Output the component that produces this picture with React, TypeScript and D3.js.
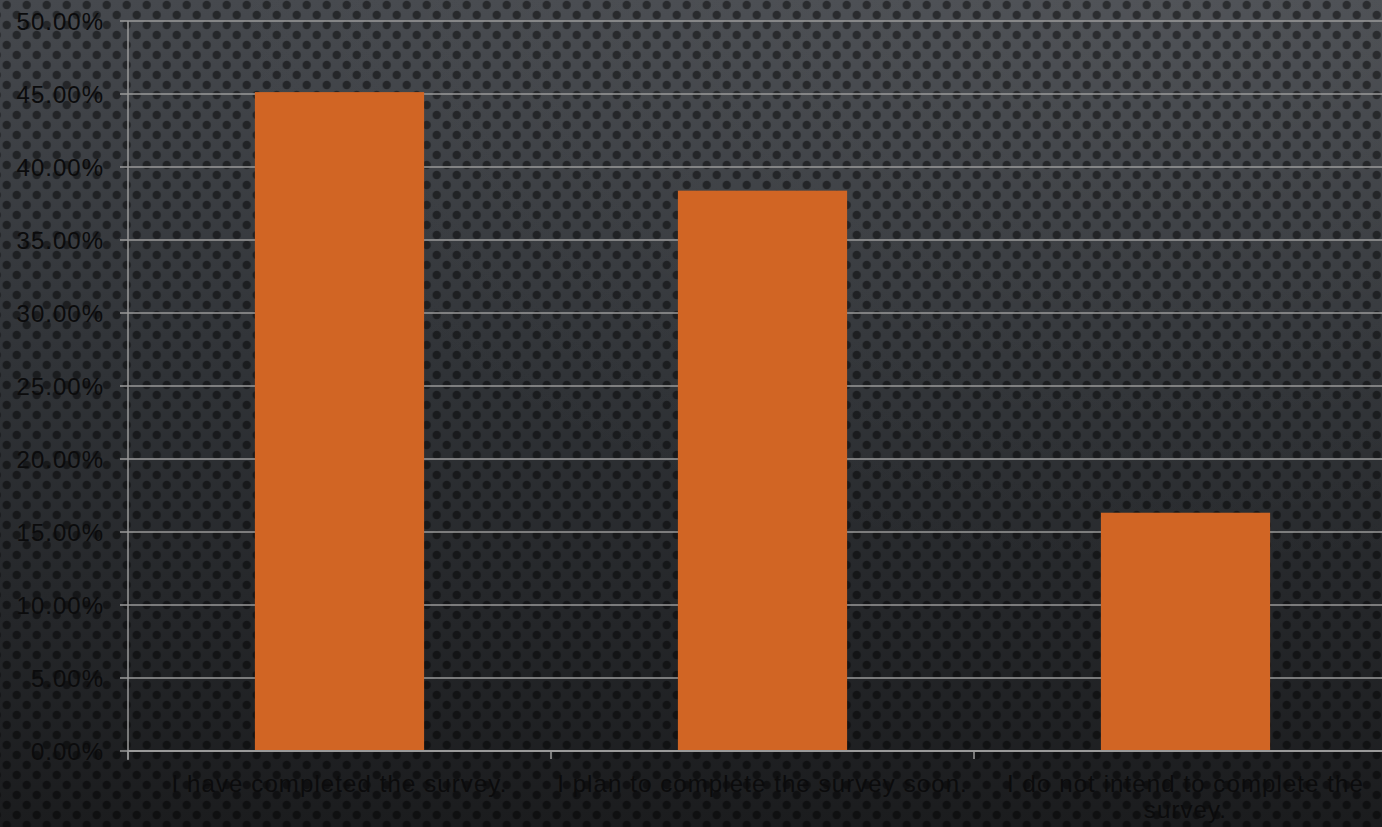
import React, { useEffect, useRef } from "react";
import * as d3 from "d3";

const categories = [
  "I have completed the survey.",
  "I plan to complete the survey soon.",
  "I do not intend to complete the survey.",
];
const values = [45.13, 38.38, 16.32];
const yTicks = [0, 5, 10, 15, 20, 25, 30, 35, 40, 45, 50];

const W = 1382;
const H = 827;
const M = { left: 128, top: 21, bottom: 76 };
const PLOT_RIGHT = 1397;

export default function App() {
  const ref = useRef<SVGSVGElement>(null);

  useEffect(() => {
    document.body.style.margin = "0";
    const svg = d3.select(ref.current);
    svg.selectAll("*").remove();

    const defs = svg.append("defs");
    const lg = defs
      .append("linearGradient")
      .attr("id", "bg")
      .attr("x1", 0)
      .attr("y1", 0)
      .attr("x2", 0)
      .attr("y2", 1);
    lg.append("stop").attr("offset", 0).attr("stop-color", "#46494e");
    lg.append("stop").attr("offset", 0.45).attr("stop-color", "#303337");
    lg.append("stop").attr("offset", 1).attr("stop-color", "#1b1c1e");

    const rg = defs
      .append("radialGradient")
      .attr("id", "hl")
      .attr("cx", 0.85)
      .attr("cy", 0)
      .attr("r", 0.7);
    rg.append("stop").attr("offset", 0).attr("stop-color", "#ffffff").attr("stop-opacity", 0.06);
    rg.append("stop").attr("offset", 1).attr("stop-color", "#ffffff").attr("stop-opacity", 0);

    const pat = defs
      .append("pattern")
      .attr("id", "dots")
      .attr("patternUnits", "userSpaceOnUse")
      .attr("x", 6.7)
      .attr("y", 0)
      .attr("width", 20)
      .attr("height", 20);
    const dotFill = "rgba(0,0,0,0.45)";
    pat.append("circle").attr("cx", 0).attr("cy", 5).attr("r", 4.2).attr("fill", dotFill);
    pat.append("circle").attr("cx", 20).attr("cy", 5).attr("r", 4.2).attr("fill", dotFill);
    pat.append("circle").attr("cx", 10).attr("cy", 15).attr("r", 4.2).attr("fill", dotFill);

    svg.append("rect").attr("width", W).attr("height", H).attr("fill", "url(#bg)");
    svg.append("rect").attr("width", W).attr("height", H).attr("fill", "url(#hl)");
    svg.append("rect").attr("width", W).attr("height", H).attr("fill", "url(#dots)");

    const y = d3
      .scaleLinear()
      .domain([0, 50])
      .range([H - M.bottom, M.top]);
    const x = d3
      .scaleBand<string>()
      .domain(categories)
      .range([M.left, PLOT_RIGHT])
      .padding(0);
    const xb = d3
      .scaleBand<string>()
      .domain(categories)
      .range([M.left, PLOT_RIGHT])
      .paddingInner(0.6)
      .paddingOuter(0.3);

    const gridColor = "#9a9a9a";

    svg
      .append("g")
      .selectAll("line")
      .data(yTicks)
      .join("line")
      .attr("x1", M.left - 8)
      .attr("x2", W)
      .attr("y1", (d) => y(d))
      .attr("y2", (d) => y(d))
      .attr("stroke", gridColor)
      .attr("stroke-width", 1.5);

    svg
      .append("g")
      .selectAll("rect")
      .data(values)
      .join("rect")
      .attr("x", (_, i) => xb(categories[i])!)
      .attr("width", xb.bandwidth())
      .attr("y", (d) => y(d))
      .attr("height", (d) => y(0) - y(d))
      .attr("fill", "#d16524");

    svg
      .append("line")
      .attr("x1", M.left)
      .attr("x2", M.left)
      .attr("y1", y(50))
      .attr("y2", y(0) + 9)
      .attr("stroke", gridColor)
      .attr("stroke-width", 1.5);

    svg
      .append("line")
      .attr("x1", M.left)
      .attr("x2", W)
      .attr("y1", y(0))
      .attr("y2", y(0))
      .attr("stroke", gridColor)
      .attr("stroke-width", 2);

    svg
      .append("g")
      .selectAll("line")
      .data(categories)
      .join("line")
      .attr("x1", (d) => x(d)!)
      .attr("x2", (d) => x(d)!)
      .attr("y1", y(0))
      .attr("y2", y(0) + 8)
      .attr("stroke", gridColor)
      .attr("stroke-width", 1.5);

    const font = "'Liberation Sans', Arial, sans-serif";

    svg
      .append("g")
      .selectAll("text")
      .data(yTicks)
      .join("text")
      .attr("x", 104)
      .attr("y", (d) => y(d) + 8.5)
      .attr("text-anchor", "end")
      .attr("font-family", font)
      .attr("font-size", 24)
      .attr("letter-spacing", 1)
      .attr("fill", "#0b0b0c")
      .text((d) => d.toFixed(2) + "%");

    const maxW = x.bandwidth() - 2;
    const lab = svg
      .append("g")
      .selectAll("text")
      .data(categories)
      .join("text")
      .attr("x", (d) => x(d)! + x.bandwidth() / 2)
      .attr("y", y(0) + 41)
      .attr("text-anchor", "middle")
      .attr("font-family", font)
      .attr("font-size", 24)
      .attr("letter-spacing", 1.1)
      .attr("fill", "#0b0b0c");

    lab.each(function (d) {
      const t = d3.select(this);
      const cx = +t.attr("x");
      const words = d.split(" ");
      let line: string[] = [];
      let ts = t.append("tspan").attr("x", cx).attr("dy", 0);
      for (const w of words) {
        line.push(w);
        ts.text(line.join(" "));
        const node = ts.node() as SVGTSpanElement;
        if (node.getComputedTextLength() > maxW && line.length > 1) {
          line.pop();
          ts.text(line.join(" "));
          line = [w];
          ts = t.append("tspan").attr("x", cx).attr("dy", 26).text(w);
        }
      }
    });
  }, []);

  return (
    <svg
      ref={ref}
      width={W}
      height={H}
      style={{ position: "absolute", left: 0, top: 0, display: "block" }}
    />
  );
}
